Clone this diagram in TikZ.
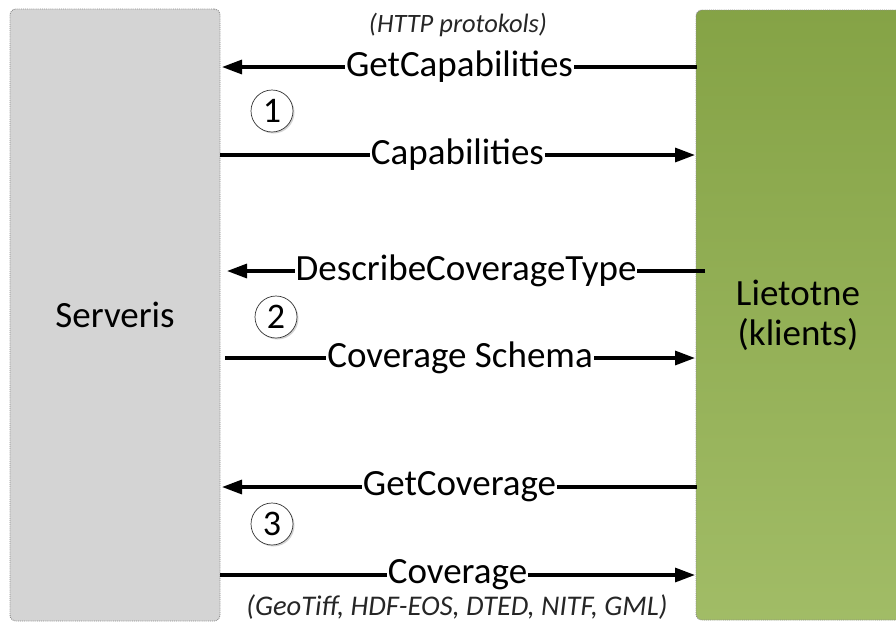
\documentclass[tikz,border=0pt]{standalone}
\usepackage{fontspec}
\setmainfont{Carlito}
\usetikzlibrary{arrows.meta,shadows}
\definecolor{srvgray}{HTML}{D4D4D4}
\definecolor{greentop}{HTML}{85A346}
\definecolor{greenbot}{HTML}{A1BC66}
\definecolor{edgegray}{HTML}{8C8C8C}
\begin{document}
\begin{tikzpicture}[x=1pt,y=-1pt,
  box/.style={draw=edgegray, densely dotted, line width=0.9pt, rounded corners=6pt, inner sep=0pt, text=black},
  msg/.style={line width=3.2pt, -{Triangle[length=20pt,width=14pt]}},
  lbl/.style={fill=white, inner sep=1pt, font=\fontsize{37}{40}\selectfont},
  note/.style={font=\fontsize{26.5}{30}\selectfont\itshape, text=black!85},
  num/.style={circle, draw=black!80, line width=0.7pt, fill=white, minimum size=42pt, inner sep=0pt,
    font=\fontsize{36}{36}\selectfont, drop shadow={shadow xshift=1.5pt, shadow yshift=-1.5pt, opacity=0.35}}]
\useasboundingbox (0,0) rectangle (896,625);
\node[box, fill=srvgray, minimum width=210pt, minimum height=612pt, font=\fontsize{37}{40}\selectfont] (srv) at (115,315) {Serveris};
\node[box, top color=greentop, bottom color=greenbot, minimum width=212pt, minimum height=610pt] (cli) at (802,315) {};
\node[font=\fontsize{37}{40}\selectfont, align=center] (clitext) at (798,315) {Lietotne\\(klients)};
\node[note] (http) at (458,25) {(HTTP protokols)};
\node[note, font=\fontsize{28.5}{30}\selectfont\itshape] (fmt) at (457,607) {(GeoTiff, HDF-EOS, DTED, NITF, GML)};
\coordinate (a1s) at (697,67); \coordinate (a1e) at (222,67);
\coordinate (a2s) at (220,155); \coordinate (a2e) at (695,155);
\coordinate (a3s) at (705,271); \coordinate (a3e) at (227,271);
\coordinate (a4s) at (225,358); \coordinate (a4e) at (695,358);
\coordinate (a5s) at (697,487); \coordinate (a5e) at (222,487);
\coordinate (a6s) at (220,575); \coordinate (a6e) at (695,575);
\draw[msg] (a1s) -- node[lbl] {GetCapabilities} (a1e);
\draw[msg] (a2s) -- node[lbl] {Capabilities} (a2e);
\draw[msg] (a3s) -- node[lbl] {DescribeCoverageType} (a3e);
\draw[msg] (a4s) -- node[lbl] {Coverage Schema} (a4e);
\draw[msg] (a5s) -- node[lbl] {GetCoverage} (a5e);
\draw[msg] (a6s) -- node[lbl] {Coverage} (a6e);
\node[num] (n1) at (272,111) {1};
\node[num] (n2) at (276,317) {2};
\node[num] (n3) at (272,524) {3};
\end{tikzpicture}
\end{document}
